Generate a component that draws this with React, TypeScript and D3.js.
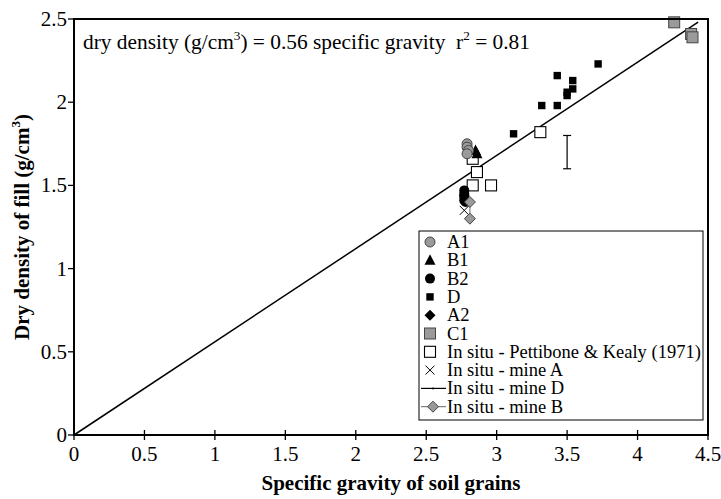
import React from "react";
import * as d3 from "d3";

type Pt = [number, number];

const xTicks = [0, 0.5, 1, 1.5, 2, 2.5, 3, 3.5, 4, 4.5];
const yTicks = [0, 0.5, 1, 1.5, 2, 2.5];

const seriesA1: Pt[] = [[2.79, 1.75], [2.79, 1.73], [2.8, 1.71], [2.79, 1.69]];
const seriesB1: Pt[] = [[2.85, 1.71], [2.86, 1.69]];
const seriesB2: Pt[] = [[2.77, 1.47], [2.77, 1.45], [2.77, 1.43], [2.77, 1.41], [2.78, 1.4]];
const seriesD: Pt[] = [
  [3.72, 2.23], [3.43, 2.16], [3.54, 2.13], [3.54, 2.08], [3.5, 2.06],
  [3.5, 2.04], [3.32, 1.98], [3.43, 1.98], [3.12, 1.81],
];
const seriesA2: Pt[] = [[2.77, 1.44]];
const seriesC1: Pt[] = [[4.26, 2.48], [4.38, 2.41], [4.39, 2.39]];
const pettibone: Pt[] = [[2.83, 1.66], [2.86, 1.58], [2.83, 1.5], [2.96, 1.5], [3.31, 1.82]];
const mineA: Pt[] = [[2.77, 1.35]];
const mineDRange: [number, number, number] = [3.5, 1.6, 1.8];
const mineB: Pt[] = [[2.81, 1.4], [2.81, 1.3]];

const slope = 0.56;
const fitEndX = 4.43;

const legendLabels = [
  "A1", "B1", "B2", "D", "A2", "C1",
  "In situ - Pettibone & Kealy (1971)", "In situ - mine A", "In situ - mine D", "In situ - mine B",
];

const FONT = "Liberation Serif, Times New Roman, Times, serif";

function Marker({ kind, x, y }: { kind: string; x: number; y: number }) {
  switch (kind) {
    case "A1":
      return <circle cx={x} cy={y} r={5} fill="#9a9a9a" stroke="#444" strokeWidth={1} />;
    case "B1":
      return <path d={`M${x},${y - 6}L${x + 5.5},${y + 4.5}L${x - 5.5},${y + 4.5}Z`} fill="#000" />;
    case "B2":
      return <circle cx={x} cy={y} r={5} fill="#000" />;
    case "D":
      return <rect x={x - 3.7} y={y - 3.7} width={7.4} height={7.4} fill="#000" />;
    case "A2":
      return <path d={`M${x},${y - 5.5}L${x + 5.5},${y}L${x},${y + 5.5}L${x - 5.5},${y}Z`} fill="#000" />;
    case "C1":
      return <rect x={x - 5.5} y={y - 5.5} width={11} height={11} fill="#9a9a9a" stroke="#444" strokeWidth={1} />;
    case "P":
      return <rect x={x - 5.5} y={y - 5.5} width={11} height={11} fill="#fff" stroke="#000" strokeWidth={1.1} />;
    case "XA":
      return (
        <path d={`M${x - 4.5},${y - 4.5}L${x + 4.5},${y + 4.5}M${x - 4.5},${y + 4.5}L${x + 4.5},${y - 4.5}`} stroke="#000" strokeWidth={1} />
      );
    case "MB":
      return <path d={`M${x},${y - 5.5}L${x + 5.5},${y}L${x},${y + 5.5}L${x - 5.5},${y}Z`} fill="#9a9a9a" stroke="#444" strokeWidth={1} />;
    default:
      return null;
  }
}

export default function App() {
  const width = 721;
  const height = 499;
  const m = { left: 74, right: 708, top: 19, bottom: 435 };

  const x = d3.scaleLinear().domain([0, 4.5]).range([m.left, m.right]);
  const y = d3.scaleLinear().domain([0, 2.5]).range([m.bottom, m.top]);

  const fitLine = d3.line<number>()
    .x((d) => x(d))
    .y((d) => y(d * slope))([0, fitEndX]) as string;

  const mineBLine = d3.line<Pt>()
    .x((d) => x(d[0]))
    .y((d) => y(d[1]))(mineB) as string;

  const legendKinds = ["A1", "B1", "B2", "D", "A2", "C1", "P", "XA", "MD", "MB"];
  const lg = { x: 419, y: 231, w: 284, h: 189, row0: 242, step: 18.3 };

  const textStyle = { fontFamily: FONT };

  return (
    <svg width={width} height={height} style={{ position: "absolute", left: 0, top: 0, background: "#fff", fontFamily: FONT }}>
      <rect x={0} y={0} width={width} height={height} fill="#fff" />

      {/* regression line */}
      <path d={fitLine} stroke="#000" strokeWidth={1.5} fill="none" />

      {/* equation */}
      <text x={83} y={49} fontSize={21} fill="#000" style={textStyle} textLength={447} lengthAdjust="spacingAndGlyphs">
        dry density (g/cm<tspan dy={-9} fontSize={13}>3</tspan>
        <tspan dy={9}>) = 0.56 specific gravity{"\u00a0\u00a0"}r</tspan>
        <tspan dy={-9} fontSize={13}>2</tspan>
        <tspan dy={9}> = 0.81</tspan>
      </text>

      {/* mine D range bar */}
      <g stroke="#000" strokeWidth={1.2}>
        <line x1={x(mineDRange[0])} x2={x(mineDRange[0])} y1={y(mineDRange[1])} y2={y(mineDRange[2])} />
        <line x1={x(mineDRange[0]) - 4} x2={x(mineDRange[0]) + 4} y1={y(mineDRange[1])} y2={y(mineDRange[1])} />
        <line x1={x(mineDRange[0]) - 4} x2={x(mineDRange[0]) + 4} y1={y(mineDRange[2])} y2={y(mineDRange[2])} />
      </g>

      {pettibone.map((d, i) => <Marker key={"p" + i} kind="P" x={x(d[0])} y={y(d[1])} />)}
      {seriesD.map((d, i) => <Marker key={"d" + i} kind="D" x={x(d[0])} y={y(d[1])} />)}
      {seriesB2.map((d, i) => <Marker key={"b2" + i} kind="B2" x={x(d[0])} y={y(d[1])} />)}
      {seriesA2.map((d, i) => <Marker key={"a2" + i} kind="A2" x={x(d[0])} y={y(d[1])} />)}
      {mineA.map((d, i) => <Marker key={"ma" + i} kind="XA" x={x(d[0])} y={y(d[1])} />)}
      <path d={mineBLine} stroke="#666" strokeWidth={1} fill="none" />
      {mineB.map((d, i) => <Marker key={"mb" + i} kind="MB" x={x(d[0])} y={y(d[1])} />)}
      {seriesB1.map((d, i) => <Marker key={"b1" + i} kind="B1" x={x(d[0])} y={y(d[1])} />)}
      {seriesA1.map((d, i) => <Marker key={"a1" + i} kind="A1" x={x(d[0])} y={y(d[1])} />)}
      {seriesC1.map((d, i) => <Marker key={"c1" + i} kind="C1" x={x(d[0])} y={y(d[1])} />)}

      {/* legend */}
      <rect x={lg.x} y={lg.y} width={lg.w} height={lg.h} fill="#fff" stroke="#000" strokeWidth={1} />
      {legendLabels.map((label, i) => {
        const ry = lg.row0 + i * lg.step;
        const kind = legendKinds[i];
        const sx = 430;
        return (
          <g key={label}>
            {kind === "MD" ? (
              <g stroke="#000" strokeWidth={1.2}>
                <line x1={421} x2={446} y1={ry} y2={ry} />
                <line x1={433} x2={433} y1={ry - 1} y2={ry + 1} />
              </g>
            ) : kind === "MB" ? (
              <g>
                <line x1={421} x2={446} y1={ry} y2={ry} stroke="#666" strokeWidth={1} />
                <Marker kind="MB" x={433} y={ry} />
              </g>
            ) : (
              <Marker kind={kind} x={sx} y={ry} />
            )}
            <text x={447} y={ry + 6} fontSize={18.5} fill="#000" style={textStyle}>{label}</text>
          </g>
        );
      })}

      {/* frame */}
      <rect x={m.left} y={m.top} width={m.right - m.left} height={m.bottom - m.top} fill="none" stroke="#000" strokeWidth={2} />

      {/* x axis ticks */}
      {xTicks.map((t) => (
        <g key={"xt" + t}>
          <line x1={x(t)} x2={x(t)} y1={m.bottom - 5} y2={m.bottom + 5} stroke="#000" strokeWidth={1.3} />
          <text x={x(t)} y={m.bottom + 26} fontSize={21} textAnchor="middle" fill="#000" style={textStyle}>{t}</text>
        </g>
      ))}

      {/* y axis ticks */}
      {yTicks.map((t) => (
        <g key={"yt" + t}>
          <line x1={m.left - 6} x2={m.left} y1={y(t)} y2={y(t)} stroke="#000" strokeWidth={1.3} />
          <text x={m.left - 7} y={y(t) + 7} fontSize={21} textAnchor="end" fill="#000" style={textStyle}>{t}</text>
        </g>
      ))}

      {/* axis titles */}
      <text x={(m.left + m.right) / 2} y={490} fontSize={21} fontWeight="bold" textAnchor="middle" fill="#000" style={textStyle}>
        Specific gravity of soil grains
      </text>
      <text transform={`translate(29, ${(m.top + m.bottom) / 2}) rotate(-90)`} fontSize={21} fontWeight="bold" textAnchor="middle" fill="#000" style={textStyle}>
        Dry density of fill (g/cm<tspan dy={-9} fontSize={13}>3</tspan><tspan dy={9}>)</tspan>
      </text>
    </svg>
  );
}
